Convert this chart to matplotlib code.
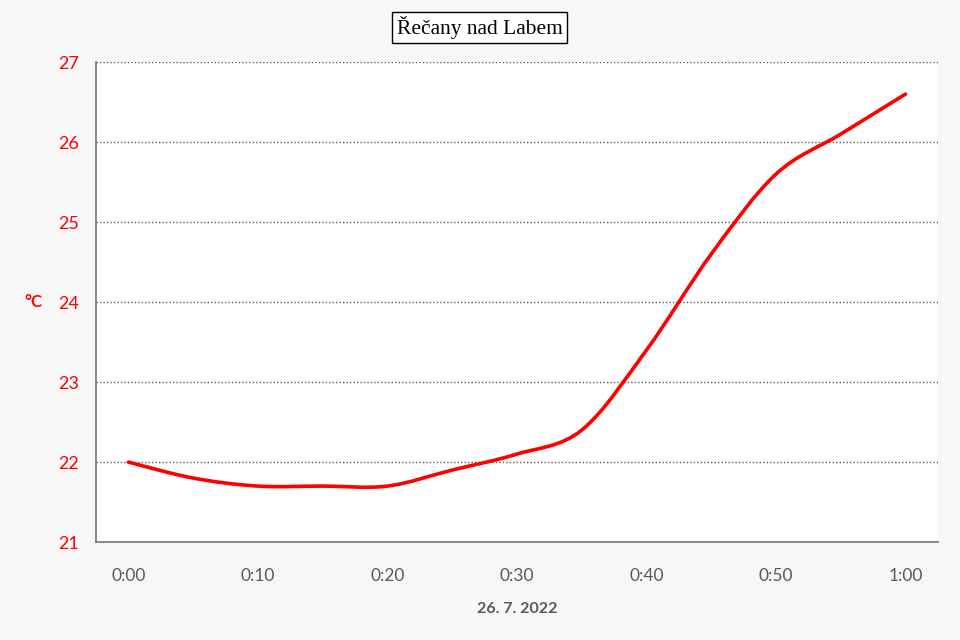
import numpy as np
from matplotlib import pyplot as plt
from matplotlib.path import Path
from matplotlib.patches import PathPatch

# Data: temperature every 5 minutes
minutes = [0, 5, 10, 15, 20, 25, 30, 35, 40, 45, 50, 55, 60]
temps = [22.0, 21.8, 21.7, 21.7, 21.7, 21.9, 22.1, 22.4, 23.4, 24.6, 25.6, 26.1, 26.6]
tick_minutes = [0, 10, 20, 30, 40, 50, 60]
tick_labels = ['0:00', '0:10', '0:20', '0:30', '0:40', '0:50', '1:00']
y_ticks = [21, 22, 23, 24, 25, 26, 27]
title = 'Řečany nad Labem'
x_title = '26. 7. 2022'
y_title = '°C'

bg = '#f7f7f7'
red = '#ff0000'
grey = '#595959'


# Smoothed line like a spreadsheet chart (Catmull-Rom -> cubic Bezier segments)
def smooth_path(xs, ys):
    pts = np.column_stack([xs, ys]).astype(float)
    verts = [pts[0]]
    codes = [Path.MOVETO]
    n = len(pts)
    for i in range(n - 1):
        p0 = pts[i - 1] if i > 0 else pts[i]
        p1 = pts[i]
        p2 = pts[i + 1]
        p3 = pts[i + 2] if i + 2 < n else pts[i + 1]
        c1 = p1 + (p2 - p0) / 6.0
        c2 = p2 - (p3 - p1) / 6.0
        verts += [c1, c2, p2]
        codes += [Path.CURVE4] * 3
    return Path(verts, codes)


fig = plt.figure(figsize=(9.6, 6.4), dpi=100, facecolor=bg)
ax = fig.add_axes([0.1, 0.153, 0.877, 0.75])
ax.set_facecolor('white')

ax.add_patch(PathPatch(smooth_path(minutes, temps), facecolor='none', edgecolor=red,
                       lw=2.6, capstyle='round', zorder=3))

ax.set_xlim(-2.5, 62.5)
ax.set_ylim(21, 27)
ax.set_yticks(y_ticks)
ax.set_xticks(tick_minutes)
ax.set_xticklabels(tick_labels)
ax.grid(axis='y', color=grey, linestyle=(0, (1, 1.5)), lw=1)
ax.set_axisbelow(True)

for side in ['top', 'right']:
    ax.spines[side].set_visible(False)
ax.spines['left'].set_color('#7f7f7f')
ax.spines['bottom'].set_color('#7f7f7f')
ax.spines['left'].set_linewidth(1.3)
ax.spines['bottom'].set_linewidth(1.3)

ax.tick_params(axis='y', length=0, pad=12, labelcolor=red, labelsize=13)
ax.tick_params(axis='x', length=0, pad=19, labelcolor=grey, labelsize=12.5)
for lab in ax.get_xticklabels() + ax.get_yticklabels():
    lab.set_family('Lato')

fig.text(0.035, 0.528, y_title, color=red, fontsize=12, weight='bold', family='Lato',
         ha='center', va='center')
fig.text(0.539, 0.048, x_title, color=grey, fontsize=11.5, weight='bold', family='Lato',
         ha='center', va='center')
fig.text(0.4995, 0.957, title, fontsize=15.5, family='Liberation Serif', ha='center', va='center',
         bbox=dict(boxstyle='square,pad=0.2', facecolor='white', edgecolor='black', lw=1))

plt.savefig('out.png', dpi=100, facecolor=bg)
plt.close(fig)
